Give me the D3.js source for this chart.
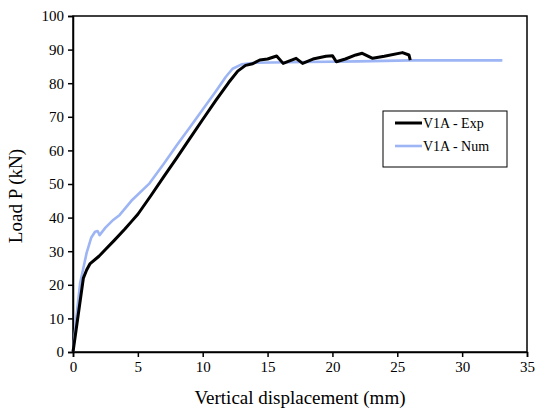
<!DOCTYPE html>
<html>
<head>
<meta charset="utf-8">
<script src="https://cdn.jsdelivr.net/npm/d3@7"></script>
<style>
  body { margin: 0; background: #fff; }
  svg text { font-family: "Liberation Serif", "DejaVu Serif", "Times New Roman", serif !important; fill: #000; }
</style>
</head>
<body>
<div id="chart"></div>
<script>
// load-displacement curves, [displacement mm, load kN]
const expData = [
  [0, 0], [0.4, 11], [0.8, 22], [1.05, 24.4], [1.3, 26.2], [2, 28.5], [2.5, 30.5],
  [3.2, 33.3], [4, 36.6], [4.5, 38.8], [5, 41], [6, 46.5], [7, 52.2], [8, 57.8],
  [9, 63.5], [10, 69.2], [11, 74.8], [12, 80.2], [12.7, 83.6], [13.3, 85.3], [13.85, 85.8],
  [14.4, 86.9], [15, 87.2], [15.7, 88.1], [16.2, 85.9], [16.6, 86.5], [17.2, 87.4],
  [17.7, 85.9], [18.5, 87.2], [19.5, 88], [20, 88.2], [20.3, 86.4], [21, 87.2],
  [21.8, 88.4], [22.3, 88.9], [23.1, 87.4], [24, 88], [25.4, 89.1], [25.9, 88.4], [26, 86.9]
];
const numData = [
  [0, 0], [0.25, 10], [0.55, 20.5], [0.8, 25], [1.05, 29.5], [1.4, 34], [1.7, 35.8],
  [1.9, 36], [2.05, 34.8], [2.5, 37], [3.1, 39.3], [3.6, 40.8], [4.5, 45], [5.9, 50.2],
  [7, 56], [8, 61.5], [9, 66.8], [10, 72.2], [11, 77.5], [11.8, 82], [12.3, 84.3],
  [13, 85.6], [14, 86.1], [18, 86.3], [22, 86.5], [26, 86.8], [33.1, 86.8]
];
const seriesNames = ['V1A - Exp', 'V1A - Num'];
const seriesColors = ['#000000', '#9db5f4'];
const xTicks = [0, 5, 10, 15, 20, 25, 30, 35];
const yTicks = [0, 10, 20, 30, 40, 50, 60, 70, 80, 90, 100];

const width = 536, height = 412;
const margin = { top: 16, right: 9, bottom: 60, left: 73 };
const innerW = width - margin.left - margin.right;
const innerH = height - margin.top - margin.bottom;

const svg = d3.select('#chart').append('svg')
  .attr('width', width).attr('height', height);
const g = svg.append('g')
  .attr('transform', `translate(${margin.left},${margin.top})`);

const x = d3.scaleLinear().domain([0, 35]).range([0, innerW]);
const y = d3.scaleLinear().domain([0, 100]).range([innerH, 0]);

// frame
g.append('rect')
  .attr('width', innerW).attr('height', innerH)
  .attr('fill', 'none').attr('stroke', '#000').attr('stroke-width', 1.5);

// axes
const xAxis = g.append('g')
  .attr('transform', `translate(0,${innerH})`)
  .call(d3.axisBottom(x).tickValues(xTicks).tickSize(5).tickPadding(4));
const yAxis = g.append('g')
  .call(d3.axisLeft(y).tickValues(yTicks).tickSize(5).tickPadding(4));
[xAxis, yAxis].forEach(a => {
  a.attr('font-family', null).attr('font-size', null);
  a.select('.domain').attr('stroke-width', 1.5);
  a.selectAll('line').attr('stroke-width', 1.5);
  a.selectAll('text').style('font-size', '15px');
});

// curves
const line = d3.line().x(d => x(d[0])).y(d => y(d[1]));
g.append('path').datum(numData)
  .attr('d', line).attr('fill', 'none')
  .attr('stroke', seriesColors[1]).attr('stroke-width', 2.6)
  .attr('stroke-linejoin', 'round');
g.append('path').datum(expData)
  .attr('d', line).attr('fill', 'none')
  .attr('stroke', seriesColors[0]).attr('stroke-width', 3)
  .attr('stroke-linejoin', 'round');

// axis titles
svg.append('text')
  .attr('x', margin.left + innerW / 2).attr('y', 404)
  .attr('text-anchor', 'middle')
  .style('font-size', '19px')
  .text('Vertical displacement (mm)');
svg.append('text')
  .attr('transform', `translate(22,${margin.top + innerH / 2 + 12}) rotate(-90)`)
  .attr('text-anchor', 'middle')
  .style('font-size', '19px')
  .text('Load P (kN)');

// legend
const legend = svg.append('g').attr('transform', 'translate(383,111)');
legend.append('rect')
  .attr('width', 124).attr('height', 56)
  .attr('fill', '#fff').attr('stroke', '#000').attr('stroke-width', 1);
seriesNames.forEach((name, i) => {
  const ly = 12 + i * 23;
  legend.append('line')
    .attr('x1', 12).attr('x2', 39).attr('y1', ly).attr('y2', ly)
    .attr('stroke', seriesColors[i]).attr('stroke-width', i === 0 ? 3 : 2.6);
  legend.append('text')
    .attr('x', 40).attr('y', ly + 5)
    .style('font-size', '14px')
    .text(name);
});
</script>
</body>
</html>
